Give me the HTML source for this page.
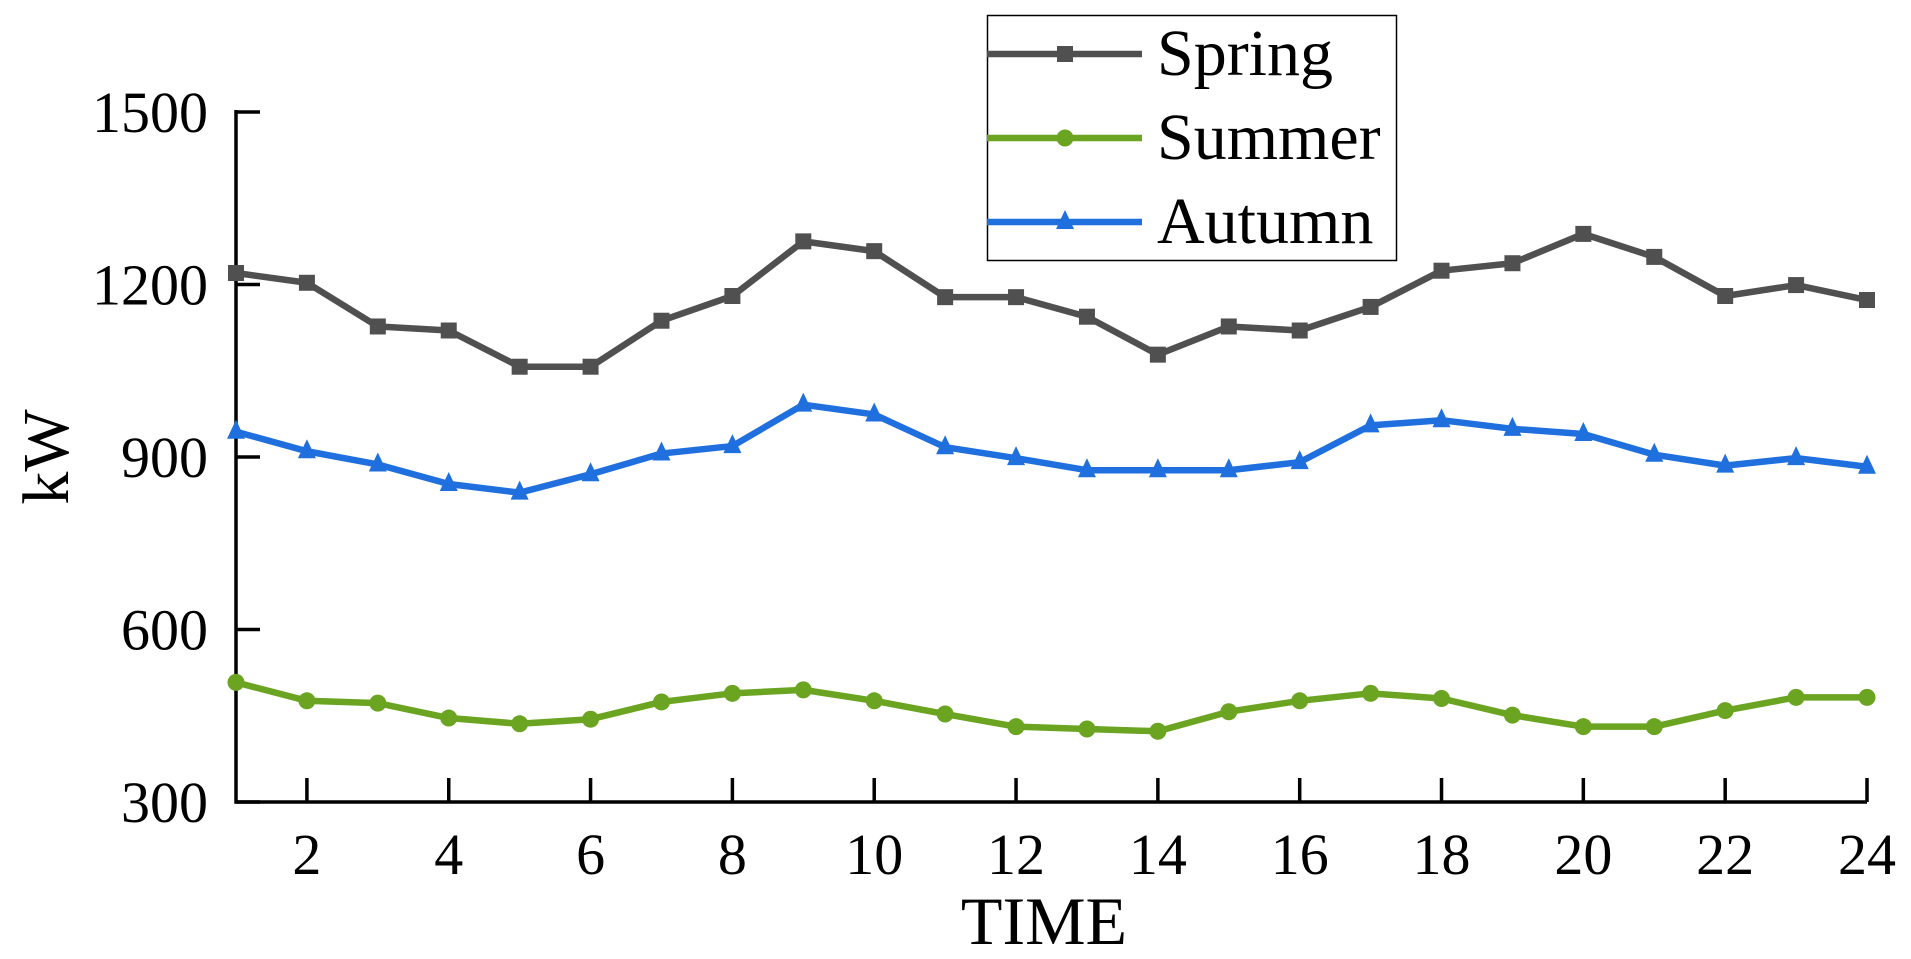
<!DOCTYPE html>
<html><head><meta charset="utf-8"><style>
html,body{margin:0;padding:0;background:#fff;}
svg{display:block;font-family:"Liberation Serif",serif;}
</style></head><body>
<svg id="chart" width="1911" height="959" viewBox="0 0 1911 959">
<g id="plot"></g>
</svg>
<script>
const hours = [1,2,3,4,5,6,7,8,9,10,11,12,13,14,15,16,17,18,19,20,21,22,23,24];
const spring = [1220,1203,1127,1120,1057,1057,1137,1180,1275,1258,1178,1178,1144,1078,1127,1120,1161,1224,1237,1288,1248,1180,1199,1173];
const summer = [508,476,472,446,436,444,474,489,495,476,453,431,427,423,457,476,489,480,451,431,431,459,482,482];
const autumn = [944,910,887,853,838,870,906,919,991,974,917,898,877,877,877,891,955,964,949,940,904,885,898,883];
const yTicks = [300,600,900,1200,1500];
const xTicks = [2,4,6,8,10,12,14,16,18,20,22,24];
const seriesNames = ["Spring","Summer","Autumn"];

const X0=236,X1=1867,Y0=802,Y1=112;
const xs=v=>X0+(v-1)/(24-1)*(X1-X0);
const ys=v=>Y0-(v-300)/(1500-300)*(Y0-Y1);
const NS="http://www.w3.org/2000/svg";
const g=document.getElementById('plot');
function mk(t,a,p){const e=document.createElementNS(NS,t);for(const k in a)e.setAttribute(k,a[k]);(p||g).appendChild(e);return e;}

let ax=mk('path',{d:`M${X0},${Y1-2} V${Y0} H${X1}`,fill:'none',stroke:'#000','stroke-width':3.5});


yTicks.forEach(v=>{
  const y=ys(v);
  let t=mk('line',{x1:X0,x2:X0+24,y1:y,y2:y,stroke:'#000','stroke-width':3.5});
  
  
  let l=mk('text',{x:X0-28,y:y+20,'text-anchor':'end','font-size':58});
  l.textContent=v;
  
  
});
xTicks.forEach(v=>{
  const x=xs(v);
  let t=mk('line',{x1:x,x2:x,y1:Y0,y2:Y0-24,stroke:'#000','stroke-width':3.5});
  
  
  let l=mk('text',{x:x,y:Y0+72,'text-anchor':'middle','font-size':58});
  l.textContent=v;
  
  
});
let xt=mk('text',{x:1044,y:944,'text-anchor':'middle','font-size':68});
xt.textContent='TIME';


let yt=mk('text',{x:0,y:0,'text-anchor':'middle','font-size':66,transform:'translate(68,457) rotate(-90)'});
yt.textContent='kW';



function marker(kind,x,y,color,parent){
  let m;
  if(kind==='square') m=mk('rect',{x:x-8,y:y-8,width:16,height:16,fill:color},parent);
  else if(kind==='circle') m=mk('circle',{cx:x,cy:y,r:8.5,fill:color},parent);
  else m=mk('polygon',{points:`${x},${y-12} ${x+9},${y+7} ${x-9},${y+7}`,fill:color},parent);
  
  
}
const series=[[spring,'#505050','square','spring'],[summer,'#6aa421','circle','summer'],[autumn,'#1f6fde','triangle','autumn']];
series.forEach(([data,color,kind,name])=>{
  const sg=mk('g',{});
  
  
  const pts=data.map((v,i)=>xs(hours[i])+','+ys(v)).join(' ');
  let p=mk('polyline',{points:pts,fill:'none',stroke:color,'stroke-width':6.5,'stroke-linejoin':'round'},sg);
  
  
  data.forEach((v,i)=>marker(kind,xs(hours[i]),ys(v),color,sg));
});

const lg=mk('g',{});


let box=mk('rect',{x:987.5,y:15.5,width:409,height:245,fill:'#fff',stroke:'#000','stroke-width':1.5},lg);


series.forEach(([data,color,kind,name],i)=>{
  const y=54+i*84;
  const eg=mk('g',{},lg);
  
  
  mk('line',{x1:987,x2:1142,y1:y,y2:y,stroke:color,'stroke-width':6.5},eg);
  marker(kind,1065,y,color,eg);
  let t=mk('text',{x:1157,y:y+21,'font-size':66},eg);
  t.textContent=seriesNames[i];
});
</script>
</body></html>
